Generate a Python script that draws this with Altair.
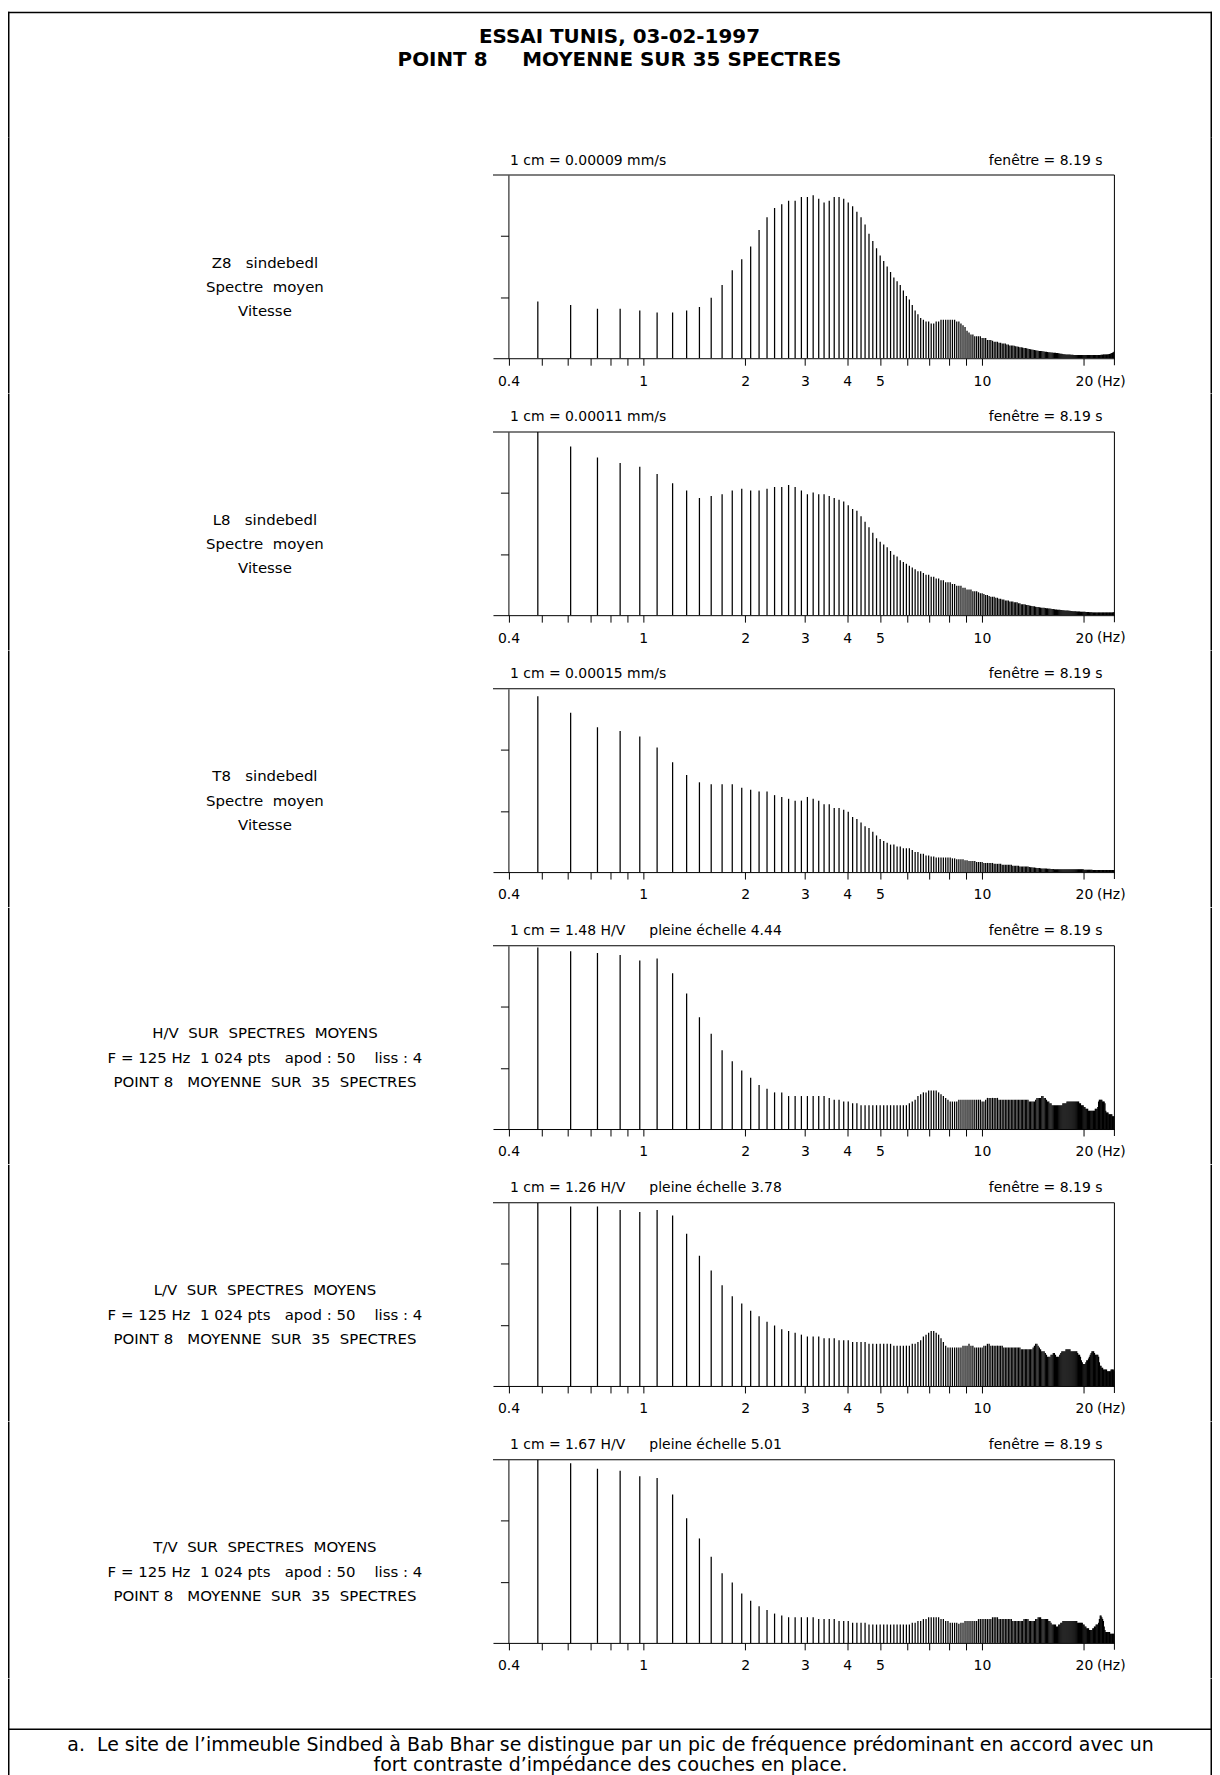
import altair as alt
import pandas as pd

FONT = "DejaVu Sans"

# Frequency grid of the spectra: F = 125 Hz, 1 024 pts (as written on the chart), bins 4..203
SAMPLING_HZ = 125.0
N_POINTS = 1024
FREQ_HZ = [k * SAMPLING_HZ / N_POINTS for k in range(4, 204)]

# Amplitudes in % of full scale (3 cm), one value per spectral line
AMP_Z8 = [
    31, 29, 27, 27, 26, 25, 25, 26, 28, 33,
    40, 48, 54, 61, 70, 77, 82, 84, 86, 86,
    88, 88, 89, 87, 85, 86, 88, 88, 87, 85,
    83, 80, 77, 73, 68, 64, 60, 56, 53, 50,
    47, 44, 42, 40, 37, 34, 32, 29, 26, 24,
    22, 21, 20, 20, 19, 19, 20, 20, 21, 21,
    21, 21, 21, 21, 21, 20, 20, 19, 18, 17,
    15, 14, 13, 13, 12, 12, 12, 12, 11, 11,
    11, 10, 10, 10, 9.5, 9, 9, 9, 8.5, 8.5,
    8, 8, 8, 7.5, 7.5, 7, 7, 7, 6.8, 6.6,
    6.4, 6.2, 6, 6, 5.8, 5.6, 5.6, 5.4, 5.2, 5,
    4.9, 4.8, 4.6, 4.5, 4.4, 4.2, 4.1, 4, 4, 3.9,
    3.8, 3.7, 3.6, 3.5, 3.4, 3.3, 3.2, 3.1, 3.1, 3,
    3, 3, 2.9, 2.8, 2.7, 2.6, 2.5, 2.4, 2.3, 2.2,
    2.2, 2.1, 2.1, 2, 2, 2, 1.9, 1.9, 1.9, 1.8,
    1.8, 1.8, 1.8, 1.8, 1.8, 1.8, 1.8, 1.8, 1.8, 1.8,
    1.8, 1.8, 1.8, 1.8, 1.8, 1.8, 1.8, 1.8, 1.8, 1.8,
    1.8, 1.8, 1.8, 1.8, 1.8, 1.8, 1.8, 1.8, 1.8, 1.8,
    1.9, 1.9, 1.9, 2, 2, 2, 2, 2.1, 2.1, 2.2,
    2.2, 2.3, 2.4, 2.6, 2.8, 3, 3.3, 3.6, 4, 4.5,
]
AMP_L8 = [
    100, 92, 86, 83, 81, 77, 72, 68, 64, 65,
    66, 68, 69, 68, 68, 69, 70, 70, 71, 70,
    68, 66, 67, 66, 66, 65, 64, 63, 62, 60,
    58, 57, 54, 51, 48, 45, 42, 40, 38.5, 37,
    35, 33, 32, 30, 29, 28, 27, 26, 25, 24,
    24, 23, 22, 22, 21, 21, 20, 20, 19, 19,
    18, 18, 18, 17, 17, 16, 16, 16, 15, 15,
    14, 14, 14, 13, 13, 13, 12.5, 12, 12, 11.5,
    11, 11, 10.5, 10, 10, 10, 9.5, 9.5, 9, 9,
    8.5, 8.5, 8, 8, 8, 7.5, 7.5, 7.5, 7, 7,
    7, 6.5, 6.5, 6, 6, 6, 5.8, 5.6, 5.5, 5.3,
    5.2, 5, 4.9, 4.8, 4.6, 4.5, 4.4, 4.3, 4.2, 4.1,
    4, 4, 3.9, 3.8, 3.8, 3.7, 3.6, 3.5, 3.4, 3.3,
    3.2, 3.1, 3.1, 3, 3, 2.9, 2.8, 2.8, 2.7, 2.7,
    2.6, 2.6, 2.5, 2.5, 2.4, 2.4, 2.3, 2.3, 2.2, 2.2,
    2.1, 2.1, 2, 2, 2, 2, 1.9, 1.9, 1.9, 1.8,
    1.8, 1.8, 1.7, 1.7, 1.7, 1.7, 1.6, 1.6, 1.6, 1.6,
    1.5, 1.5, 1.5, 1.5, 1.5, 1.5, 1.5, 1.5, 1.5, 1.5,
    1.5, 1.5, 1.5, 1.5, 1.5, 1.5, 1.5, 1.5, 1.5, 1.5,
    1.5, 1.5, 1.5, 1.5, 1.5, 1.5, 1.6, 1.6, 1.7, 1.8,
]
AMP_T8 = [
    96, 87, 79, 77, 74, 68, 60, 53, 49, 48,
    48, 48, 46, 45, 44, 44, 42, 41, 40, 39,
    39, 41, 40, 39, 37, 37, 35, 35, 34, 33,
    30, 29, 27, 25, 24, 22, 20, 18, 17, 16,
    15, 15, 14, 14, 13, 13, 13, 12, 11, 11,
    10, 10, 9, 9, 8.5, 8.5, 8, 8, 8, 8,
    8, 8, 8, 7.5, 7.5, 7, 7, 7, 7, 6.5,
    6.5, 6, 6, 6, 6, 5.5, 5.5, 5.5, 5.5, 5,
    5, 5, 5, 5, 5, 4.5, 4.5, 4.5, 4.5, 4.5,
    4, 4, 4, 4, 4, 4, 4, 3.5, 3.5, 3.5,
    3.5, 3.5, 3, 3, 3, 3, 3, 3, 3, 2.8,
    2.7, 2.6, 2.5, 2.5, 2.4, 2.3, 2.2, 2.2, 2.1, 2,
    2, 2, 2, 1.9, 1.8, 1.8, 1.8, 1.7, 1.7, 1.7,
    1.6, 1.6, 1.6, 1.6, 1.6, 1.6, 1.6, 1.6, 1.6, 1.6,
    1.5, 1.5, 1.5, 1.5, 1.5, 1.5, 1.5, 1.5, 1.5, 1.5,
    1.5, 1.5, 1.5, 1.5, 1.5, 1.5, 1.5, 1.5, 1.5, 1.5,
    1.3, 1.3, 1.3, 1.3, 1.3, 1.3, 1.3, 1.3, 1.3, 1.3,
    1.2, 1.2, 1.2, 1.2, 1.2, 1.2, 1.2, 1.2, 1.2, 1.2,
    1.1, 1.1, 1.1, 1.1, 1.1, 1.1, 1.1, 1.1, 1.1, 1.1,
    1.1, 1.1, 1.1, 1.1, 1.1, 1.1, 1.1, 1.1, 1.1, 1.1,
]
AMP_HV = [
    99, 97, 96, 95, 92, 93, 85, 74, 61, 52,
    43, 37, 32, 28, 24, 22, 20, 20, 18, 18,
    18, 18, 18, 18, 18, 17, 16, 16, 15, 15,
    14, 14, 13, 13, 13, 13, 13, 13, 13, 13,
    13, 13, 13, 13, 13, 13, 14, 15, 16, 18,
    19, 20, 20, 21, 21, 21, 21, 20, 19, 18,
    17, 16, 15, 15, 15, 15, 16, 16, 16, 16,
    16, 16, 16, 16, 16, 16, 16, 16, 15, 15,
    16, 17, 17, 17, 17, 17, 17, 17, 16, 16,
    16, 16, 16, 16, 16, 16, 16, 16, 16, 16,
    16, 16, 16, 16, 16, 16, 16, 16, 16, 15,
    15, 15, 15, 15, 16, 17, 17, 17, 17, 18,
    18, 17, 17, 16, 15, 15, 14, 14, 13, 13,
    13, 13, 13, 13, 13, 13, 13, 13, 14, 14,
    14, 14, 15, 15, 15, 15, 15, 15, 15, 15,
    15, 15, 15, 15, 15, 14, 14, 13, 13, 13,
    12, 12, 11, 11, 11, 10, 10, 10, 10, 10,
    10, 10, 10, 11, 11, 11, 12, 15, 16, 16,
    16, 16, 15, 15, 15, 14, 10, 9, 9, 9,
    8, 8, 8, 8, 8, 7, 7, 7, 7, 6,
]
AMP_LV = [
    100, 98, 98, 96, 95, 96, 93, 83, 71, 63,
    55, 49, 45, 41, 38, 35, 33, 31, 30, 29,
    28, 27, 27, 27, 26, 26, 26, 25, 25, 25,
    24, 24, 24, 24, 23, 23, 23, 23, 23, 23,
    23, 22, 22, 22, 22, 22, 22, 23, 23, 24,
    25, 27, 28, 29, 30, 30, 29, 28, 26, 24,
    22, 21, 21, 21, 21, 21, 21, 21, 22, 22,
    22, 23, 22, 22, 21, 21, 21, 21, 21, 22,
    22, 23, 23, 22, 22, 22, 22, 22, 22, 22,
    22, 21, 21, 21, 21, 21, 21, 21, 21, 21,
    21, 21, 21, 20, 20, 20, 20, 20, 20, 20,
    20, 20, 21, 22, 23, 23, 22, 21, 20, 19,
    19, 19, 18, 17, 16, 16, 16, 17, 17, 18,
    18, 17, 16, 16, 16, 17, 18, 19, 19, 19,
    19, 20, 20, 20, 20, 20, 19, 19, 19, 19,
    19, 19, 19, 18, 17, 17, 16, 14, 13, 12,
    12, 12, 13, 14, 14, 15, 16, 17, 18, 19,
    19, 19, 18, 17, 17, 17, 17, 16, 13, 11,
    11, 10, 10, 9, 9, 9, 9, 9, 8, 8,
    8, 8, 8, 9, 9, 9, 9, 8, 8, 7,
]
AMP_TV = [
    100, 98, 95, 94, 91, 90, 81, 68, 57, 47,
    38, 33, 27, 23, 20, 18, 16, 15, 14, 14,
    14, 14, 14, 13, 13, 13, 13, 12, 12, 12,
    11, 11, 11, 11, 10, 10, 10, 10, 10, 10,
    10, 10, 10, 10, 10, 10, 10, 11, 11, 12,
    12, 13, 13, 14, 14, 14, 14, 14, 13, 13,
    12, 12, 11, 11, 11, 11, 10.5, 11, 11, 12,
    12, 12, 12, 12, 12, 12, 13, 13, 13, 13,
    13, 13, 13, 13, 14, 14, 14, 14, 13, 13,
    13, 13, 13, 13, 13, 13, 13, 12, 12, 12,
    12, 12, 12, 12, 12, 13, 13, 13, 13, 12,
    12, 12, 12, 12, 13, 13, 14, 14, 14, 13,
    13, 13, 13, 13, 13, 12, 12, 11, 10, 10,
    10, 10, 9, 9, 10, 10, 11, 11, 12, 12,
    12, 12, 12, 12, 12, 12, 12, 12, 12, 12,
    12, 12, 12, 11, 11, 11, 11, 11, 11, 10,
    10, 9, 9, 8, 8, 8, 7, 7, 7, 7,
    8, 8, 9, 9, 10, 10, 10, 11, 13, 15,
    15, 14, 13, 12, 9, 7, 6, 6, 6, 6,
    6, 6, 5, 5, 5, 5, 5, 5, 4, 4,
]

X_TICKS = [0.4, 0.5, 0.6, 0.7, 0.8, 0.9, 1, 2, 3, 4, 5, 6, 7, 8, 9, 10, 20]
X_LABELED = [0.4, 1, 2, 3, 4, 5, 10, 20]
X_DOMAIN = [0.36, 24.6]
Y_TICKS = [100 / 3, 200 / 3]
HZ_AT = [20]

TITLE_LINES = ["ESSAI TUNIS, 03-02-1997", "POINT 8     MOYENNE SUR 35 SPECTRES"]
CAPTION_LINES = [
    "a.  Le site de l\u2019immeuble Sindbed \u00e0 Bab Bhar se distingue par un pic de fr\u00e9quence pr\u00e9dominant en accord avec un",
    "fort contraste d\u2019imp\u00e9dance des couches en place.",
]
WINDOW_TXT = "fen\u00eatre = 8.19 s"
HV_INFO = ["F = 125 Hz  1 024 pts   apod : 50    liss : 4", "POINT 8   MOYENNE  SUR  35  SPECTRES"]

PANELS = [
    dict(amp=AMP_Z8, scale="1 cm = 0.00009 mm/s", full="",
         side=["Z8   sindebedl", "Spectre  moyen", "Vitesse"]),
    dict(amp=AMP_L8, scale="1 cm = 0.00011 mm/s", full="",
         side=["L8   sindebedl", "Spectre  moyen", "Vitesse"]),
    dict(amp=AMP_T8, scale="1 cm = 0.00015 mm/s", full="",
         side=["T8   sindebedl", "Spectre  moyen", "Vitesse"]),
    dict(amp=AMP_HV, scale="1 cm = 1.48 H/V", full="pleine \u00e9chelle 4.44",
         side=["H/V  SUR  SPECTRES  MOYENS"] + HV_INFO),
    dict(amp=AMP_LV, scale="1 cm = 1.26 H/V", full="pleine \u00e9chelle 3.78",
         side=["L/V  SUR  SPECTRES  MOYENS"] + HV_INFO),
    dict(amp=AMP_TV, scale="1 cm = 1.67 H/V", full="pleine \u00e9chelle 5.01",
         side=["T/V  SUR  SPECTRES  MOYENS"] + HV_INFO),
]
for p in PANELS:
    assert len(p["amp"]) == len(FREQ_HZ), len(p["amp"])

# ---- layout (pixels) ----
W, H = 624, 184
TOP_EXT, BOT_EXT = 38, 35.4
FRAME_L, FRAME_R, FW = -487, 722, 1.5
TITLE_H = 126
CAP_H = 100

X_SCALE = alt.Scale(type="log", domain=X_DOMAIN, nice=False)
Y_SCALE = alt.Scale(domain=[0, 100], nice=False)
label_test = "indexof(" + str(X_LABELED) + ", datum.value) >= 0 ? format(datum.value, '.1~f') : ''"
X_AXIS = alt.Axis(
    values=X_TICKS, labelExpr=label_test, tickSize=7, labelPadding=9,
    labelFontSize=14, labelFont=FONT, labelColor="black", tickColor="black",
    domainColor="black", labelOverlap=False, labelFlush=False, grid=False,
    title=None)


def one(text):
    return pd.DataFrame({"t": [text.replace(" ", "\u00a0")]})


def label(text, x, y, align="left", size=14, weight="normal"):
    return alt.Chart(one(text)).mark_text(
        align=align, baseline="middle", font=FONT, fontSize=size,
        fontWeight=weight, color="black"
    ).encode(x=alt.value(x), y=alt.value(y), text="t:N")


def bar(x1, x2, y1, y2):
    return alt.Chart(pd.DataFrame({"v": [0]})).mark_rect(color="black").encode(
        x=alt.value(x1), x2=alt.value(x2), y=alt.value(y1), y2=alt.value(y2)
    )


def panel(p):
    df = pd.DataFrame({"f": FREQ_HZ, "a": p["amp"]})
    spectrum = alt.Chart(df).mark_rule(color="black", strokeWidth=1.25, clip=True).encode(
        x=alt.X("f:Q", scale=X_SCALE, axis=X_AXIS),
        y=alt.Y("a:Q", scale=Y_SCALE, axis=alt.Axis(
            values=Y_TICKS, labels=False, tickSize=8, offset=-15.5, grid=False,
            title=None, domainColor="black", tickColor="black")),
        y2=alt.datum(0),
    )
    hz_df = pd.DataFrame({"f": HZ_AT, "t": ["(Hz)"]})
    hz = alt.Chart(hz_df).mark_text(
        align="left", baseline="middle", dx=13, font=FONT, fontSize=14, color="black"
    ).encode(x=alt.X("f:Q", scale=X_SCALE, axis=X_AXIS),
             y=alt.value(H + 23.4), text="t:N")
    layers = [spectrum, hz,
              label(p["scale"], 17, -14.5),
              label(WINDOW_TXT, 612, -14.5, align="right"),
              bar(0, W, -0.5, 0.5),
              bar(W - 0.5, W + 0.5, 0, H + 7),
              bar(FRAME_L, FRAME_L + FW, -TOP_EXT, H + BOT_EXT),
              bar(FRAME_R - FW, FRAME_R, -TOP_EXT, H + BOT_EXT)]
    if p["full"]:
        layers.append(label(p["full"], 157, -14.5))
    for i, line in enumerate(p["side"]):
        layers.append(label(line, -229, 88 + 24.5 * i, align="center", size=15))
    return alt.layer(*layers).properties(width=W, height=H)


title_chart = alt.layer(
    bar(FRAME_L, FRAME_R, 0, FW),
    bar(FRAME_L, FRAME_L + FW, 0, TITLE_H),
    bar(FRAME_R - FW, FRAME_R, 0, TITLE_H),
    label(TITLE_LINES[0], 127, 25, align="center", size=20, weight="bold"),
    label(TITLE_LINES[1], 127, 49, align="center", size=20, weight="bold"),
).properties(width=W, height=TITLE_H)

SEP_Y = 50
caption_chart = alt.layer(
    bar(FRAME_L, FRAME_R, SEP_Y, SEP_Y + FW),
    bar(FRAME_L, FRAME_L + FW, 0, CAP_H),
    bar(FRAME_R - FW, FRAME_R, 0, CAP_H),
    label(CAPTION_LINES[0], 118, SEP_Y + 17, align="center", size=19),
    label(CAPTION_LINES[1], 118, SEP_Y + 37, align="center", size=19),
).properties(width=W, height=CAP_H)

chart = alt.vconcat(
    title_chart, *[panel(p) for p in PANELS], caption_chart, spacing=0, padding=0
).configure_view(stroke=None)

chart.save("out.html", embed_options={"renderer": "svg", "actions": False})
